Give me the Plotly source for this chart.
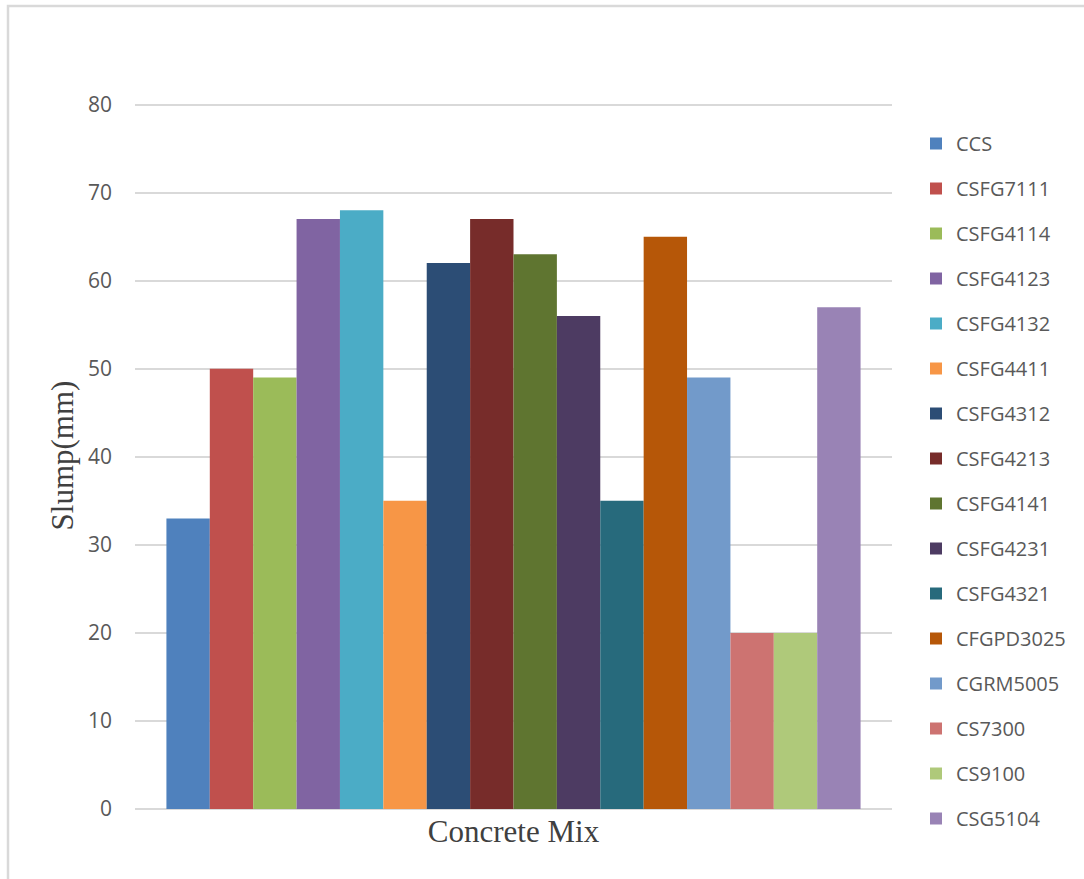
import plotly.graph_objects as go

category = ["Concrete Mix"]
mixes = ["CCS", "CSFG7111", "CSFG4114", "CSFG4123", "CSFG4132", "CSFG4411",
         "CSFG4312", "CSFG4213", "CSFG4141", "CSFG4231", "CSFG4321",
         "CFGPD3025", "CGRM5005", "CS7300", "CS9100", "CSG5104"]
slump = [33, 50, 49, 67, 68, 35, 62, 67, 63, 56, 35, 65, 49, 20, 20, 57]
colors = ["#4F81BD", "#C0504D", "#9BBB59", "#8064A2", "#4BACC6", "#F79646",
          "#2C4D75", "#772C2A", "#5F7530", "#4D3B62", "#276A7C", "#B65708",
          "#729ACA", "#CD7371", "#AFC97A", "#9983B5"]
y_ticks = [0, 10, 20, 30, 40, 50, 60, 70, 80]

fig = go.Figure()
for name, val, col in zip(mixes, slump, colors):
    fig.add_trace(go.Bar(x=category, y=[val], name=name, marker_color=col,
                         marker_line_width=0, legendgroup=name))

YMAX = 80.3
L, R, B = 135, 192, 70
T = round(105 - (YMAX - 80) * 8.8)
W, H = 1084, 879
pw, ph = W - L - R, H - T - B

fig.update_layout(
    width=W, height=H,
    margin=dict(l=L, r=R, t=T, b=B),
    paper_bgcolor="white", plot_bgcolor="white",
    barmode="group", bargap=0.083, bargroupgap=0,
    font=dict(family="Open Sans, Liberation Sans, sans-serif", color="#595959", size=20),
    showlegend=True,
    legend=dict(x=(916 - L) / pw, y=(809 - 124) / ph, xanchor="left", yanchor="top",
                font=dict(size=20, color="#595959"), tracegroupgap=16,
                itemwidth=30, bgcolor="rgba(0,0,0,0)", maxheight=1000),
    xaxis=dict(showticklabels=False, showgrid=False, zeroline=False, showline=False,
               title=dict(text="Concrete Mix", standoff=11,
                          font=dict(family="Liberation Serif, Times New Roman, serif",
                                    size=31, color="#404040"))),
    yaxis=dict(range=[0, YMAX], tickvals=y_ticks, showgrid=True, gridcolor="#D9D9D9",
               gridwidth=1.5, zeroline=True, zerolinecolor="#D9D9D9", zerolinewidth=1.5,
               showline=False, ticks="", ticklabelstandoff=22,
               tickfont=dict(size=21, color="#595959"),
               title=dict(text="Slump(mm)", standoff=5,
                          font=dict(family="Liberation Serif, Times New Roman, serif",
                                    size=31, color="#404040"))),
    shapes=[dict(type="rect", xref="paper", yref="paper",
                 x0=(8 - L) / pw, x1=(W + 20 - L) / pw,
                 y0=(H - T - 900) / ph, y1=(H - B - 6) / ph,
                 line=dict(color="#D9D9D9", width=2.5), fillcolor="rgba(0,0,0,0)",
                 layer="below")],
)

fig.write_html("out.html")
